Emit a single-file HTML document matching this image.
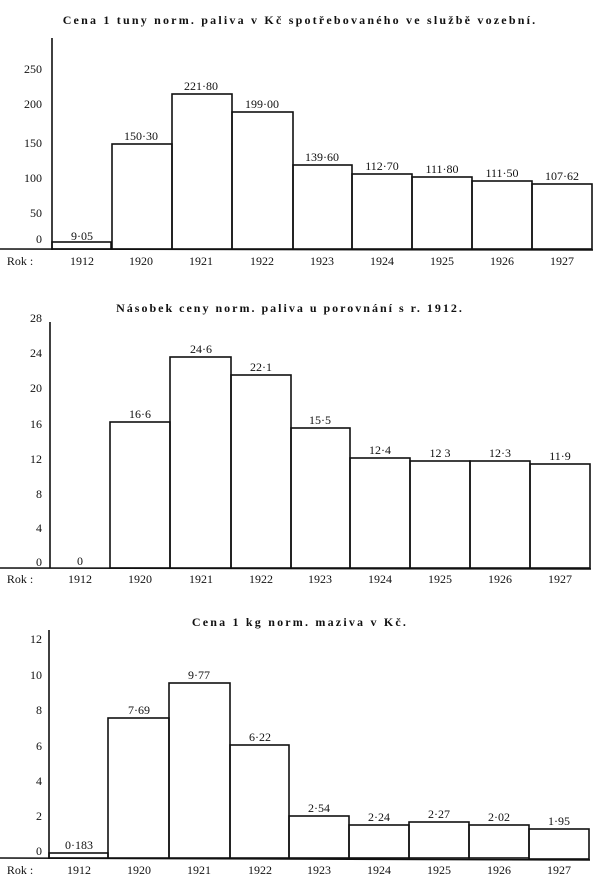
<!DOCTYPE html>
<html><head><meta charset="utf-8"><style>
html,body{margin:0;padding:0;background:#fff;}
svg{display:block;font-family:"Liberation Serif",serif;}
text{fill:#111;}
</style></head><body>
<svg width="600" height="886" viewBox="0 0 600 886" xmlns="http://www.w3.org/2000/svg">
<g stroke="#111" fill="none" stroke-width="1.6">
<!-- chart 1 -->
<line x1="52" y1="38" x2="52" y2="250"/>
<line x1="0" y1="249" x2="593" y2="250"/>
<rect x="52" y="242" width="59" height="7"/>
<rect x="112" y="144" width="60" height="105"/>
<rect x="172" y="94" width="60" height="155"/>
<rect x="232" y="112" width="61" height="137"/>
<rect x="293" y="165" width="59" height="84"/>
<rect x="352" y="174" width="60" height="75"/>
<rect x="412" y="177" width="60" height="72"/>
<rect x="472" y="181" width="60" height="68"/>
<rect x="532" y="184" width="60" height="65"/>
<!-- chart 2 -->
<line x1="50" y1="322" x2="50" y2="568"/>
<line x1="0" y1="568" x2="591" y2="569"/>
<rect x="110" y="422" width="60" height="146"/>
<rect x="170" y="357" width="61" height="211"/>
<rect x="231" y="375" width="60" height="193"/>
<rect x="291" y="428" width="59" height="140"/>
<rect x="350" y="458" width="60" height="110"/>
<rect x="410" y="461" width="60" height="107"/>
<rect x="470" y="461" width="60" height="107"/>
<rect x="530" y="464" width="60" height="104"/>
<!-- chart 3 -->
<line x1="49" y1="630" x2="49" y2="859"/>
<line x1="0" y1="858" x2="590" y2="860"/>
<rect x="49" y="853" width="59" height="5"/>
<rect x="108" y="718" width="61" height="140"/>
<rect x="169" y="683" width="61" height="175"/>
<rect x="230" y="745" width="59" height="113"/>
<rect x="289" y="816" width="60" height="42"/>
<rect x="349" y="825" width="60" height="33"/>
<rect x="409" y="822" width="60" height="36"/>
<rect x="469" y="825" width="60" height="33"/>
<rect x="529" y="829" width="60" height="30"/>
</g>
<g font-size="12" text-anchor="middle" font-weight="bold">
<text x="300" y="24" letter-spacing="2.2">Cena 1 tuny norm. paliva v Kč spotřebovaného ve službě vozební.</text>
<text x="290" y="312" letter-spacing="2">Násobek ceny norm. paliva u porovnání s r. 1912.</text>
<text x="300" y="626" letter-spacing="2.2">Cena 1 kg norm. maziva v Kč.</text>
</g>
<g font-size="12" text-anchor="end">
<text x="42" y="73">250</text><text x="42" y="108">200</text><text x="42" y="147">150</text><text x="42" y="182">100</text><text x="42" y="217">50</text><text x="42" y="243">0</text>
<text x="42" y="322">28</text><text x="42" y="357">24</text><text x="42" y="392">20</text><text x="42" y="428">16</text><text x="42" y="463">12</text><text x="42" y="498">8</text><text x="42" y="532">4</text><text x="42" y="566">0</text>
<text x="42" y="643">12</text><text x="42" y="679">10</text><text x="42" y="714">8</text><text x="42" y="750">6</text><text x="42" y="785">4</text><text x="42" y="820">2</text><text x="42" y="855">0</text>
</g>
<g font-size="12" text-anchor="middle">
<text x="20" y="265">Rok :</text><text x="20" y="583">Rok :</text><text x="20" y="874">Rok :</text>
<text x="82" y="265">1912</text><text x="141" y="265">1920</text><text x="201" y="265">1921</text><text x="262" y="265">1922</text><text x="322" y="265">1923</text><text x="382" y="265">1924</text><text x="442" y="265">1925</text><text x="502" y="265">1926</text><text x="562" y="265">1927</text>
<text x="82" y="240">9·05</text><text x="141" y="140">150·30</text><text x="201" y="90">221·80</text><text x="262" y="108">199·00</text><text x="322" y="161">139·60</text><text x="382" y="170">112·70</text><text x="442" y="173">111·80</text><text x="502" y="177">111·50</text><text x="562" y="180">107·62</text>
<text x="80" y="583">1912</text><text x="140" y="583">1920</text><text x="201" y="583">1921</text><text x="261" y="583">1922</text><text x="320" y="583">1923</text><text x="380" y="583">1924</text><text x="440" y="583">1925</text><text x="500" y="583">1926</text><text x="560" y="583">1927</text>
<text x="80" y="565">0</text><text x="140" y="418">16·6</text><text x="201" y="353">24·6</text><text x="261" y="371">22·1</text><text x="320" y="424">15·5</text><text x="380" y="454">12·4</text><text x="440" y="457">12 3</text><text x="500" y="457">12·3</text><text x="560" y="460">11·9</text>
<text x="79" y="874">1912</text><text x="139" y="874">1920</text><text x="199" y="874">1921</text><text x="260" y="874">1922</text><text x="319" y="874">1923</text><text x="379" y="874">1924</text><text x="439" y="874">1925</text><text x="499" y="874">1926</text><text x="559" y="874">1927</text>
<text x="79" y="849">0·183</text><text x="139" y="714">7·69</text><text x="199" y="679">9·77</text><text x="260" y="741">6·22</text><text x="319" y="812">2·54</text><text x="379" y="821">2·24</text><text x="439" y="818">2·27</text><text x="499" y="821">2·02</text><text x="559" y="825">1·95</text>
</g>
</svg>
</body></html>
